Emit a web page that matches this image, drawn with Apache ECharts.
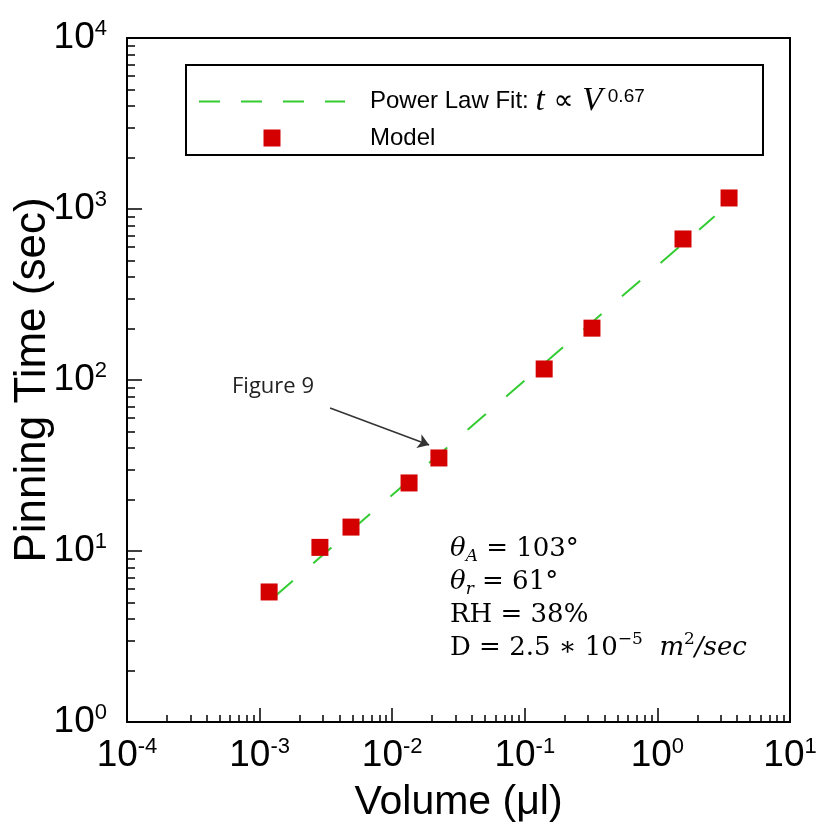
<!DOCTYPE html>
<html>
<head>
<meta charset="utf-8">
<script src="https://cdn.jsdelivr.net/npm/echarts@6/dist/echarts.min.js"></script>
<style>
html, body { margin: 0; padding: 0; background: #fff; }
#chart { width: 820px; height: 827px; }
</style>
</head>
<body>
<div id="chart"></div>
<script>
// model points
var volume = [0.00118, 0.00285, 0.00489, 0.0134, 0.0225, 0.140, 0.321, 1.56, 3.47];
var pinTime = [5.76, 10.5, 13.8, 25.0, 35.0, 116, 201, 668, 1160];
// power law fit, t ~ V^0.67 (end points of the dashed line)
var fitVolume = [0.0013, 2.7];
var fitTime = [5.42, 906];
// "Figure 9" arrow, tail and head
var arrowFrom = [0.0034, 68.6];
var arrowTo = [0.019, 41.7];
// ticks
var xMajor = [1e-4, 1e-3, 1e-2, 1e-1, 1, 10];
var yMajor = [1, 10, 100, 1000, 10000];
var minorMult = [2, 3, 4, 5, 6, 7, 8, 9];

function minorTicks(majors) {
	var out = [];
	for (var i = 0; i < majors.length - 1; i++) {
		for (var j = 0; j < minorMult.length; j++) {
			out.push(majors[i] * minorMult[j]);
		}
	}
	return out;
}

function powLabel(v) {
	return '{b|10}{s|' + Math.round(Math.log10(v)) + '}';
}

var labelRich = {
	b: { fontFamily: 'Liberation Sans', fontSize: 37, lineHeight: 40, color: '#000' },
	s: { fontFamily: 'Liberation Sans', fontSize: 22, lineHeight: 22, verticalAlign: 'top', color: '#000' }
};

var myChart = echarts.init(document.getElementById('chart'));

var option = {
	backgroundColor: '#fff',
	animation: false,
	grid: {
		left: 127, right: 30, top: 38, bottom: 105,
		outerBoundsMode: 'none',
		containLabel: false,
		show: true, borderColor: '#000', borderWidth: 2
	},
	//legend sits on a white box drawn below
	legend: {
		orient: 'vertical',
		left: 198,
		top: 85,
		padding: 0,
		itemWidth: 146,
		itemHeight: 17,
		itemGap: 8,
		z: 10,
		selectedMode: false,
		data: [
			{ name: 'Power Law Fit', itemStyle: { opacity: 0 }, lineStyle: { type: [21, 21], width: 2, color: '#33cc33' } },
			{ name: 'Model', icon: 'path://M0,0L10,0L10,10L0,10Z' }
		],
		formatter: function(name) {
			if (name == 'Power Law Fit') {
				return '{a|Power Law Fit: }{i|t}{p| ∝ }{i|V}{s| 0.67}';
			}
			return '{a|Model}';
		},
		textStyle: {
			color: '#000',
			fontFamily: 'Liberation Sans',
			fontSize: 24,
			rich: {
				a: { fontFamily: 'Liberation Sans', fontSize: 24, lineHeight: 28, padding: [0, 0, 0, 20], color: '#000' },
				i: { fontFamily: 'Liberation Serif', fontStyle: 'italic', fontSize: 33, lineHeight: 28, color: '#000' },
				p: { fontFamily: 'DejaVu Sans', fontSize: 28, lineHeight: 28, color: '#000' },
				s: { fontFamily: 'Liberation Sans', fontSize: 19, lineHeight: 16, verticalAlign: 'top', color: '#000' }
			}
		}
	},
	xAxis: [{
		type: 'log',
		logBase: 10,
		min: 1e-4,
		max: 10,
		position: 'bottom',
		name: 'Volume (μl)',
		nameLocation: 'middle',
		nameGap: 60,
		nameMoveOverlap: false,
		nameTextStyle: { fontFamily: 'Liberation Sans', fontSize: 41, color: '#000', verticalAlign: 'top' },
		axisLine: { lineStyle: { color: '#000', width: 2 } },
		axisTick: { inside: true, length: 14, customValues: xMajor, lineStyle: { color: '#000', width: 1.5 } },
		axisLabel: { customValues: xMajor, margin: 14, formatter: powLabel, rich: labelRich },
		splitLine: { show: false }
	}, {
		// minor ticks only
		type: 'log',
		logBase: 10,
		min: 1e-4,
		max: 10,
		position: 'bottom',
		axisLine: { show: false },
		axisTick: { inside: true, length: 7, customValues: minorTicks(xMajor), lineStyle: { color: '#000', width: 1.5 } },
		axisLabel: { show: false },
		splitLine: { show: false }
	}],
	yAxis: [{
		type: 'log',
		logBase: 10,
		min: 1,
		max: 10000,
		position: 'left',
		name: 'Pinning Time (sec)',
		nameLocation: 'middle',
		nameGap: 72,
		nameRotate: 90,
		nameMoveOverlap: false,
		nameTextStyle: { fontFamily: 'Liberation Sans', fontSize: 44, color: '#000' },
		axisLine: { lineStyle: { color: '#000', width: 2 } },
		axisTick: { inside: true, length: 15, customValues: yMajor, lineStyle: { color: '#000', width: 1.5 } },
		axisLabel: { customValues: yMajor, margin: 20, formatter: powLabel, rich: labelRich },
		splitLine: { show: false }
	}, {
		type: 'log',
		logBase: 10,
		min: 1,
		max: 10000,
		position: 'left',
		axisLine: { show: false },
		axisTick: { inside: true, length: 8, customValues: minorTicks(yMajor), lineStyle: { color: '#000', width: 1.5 } },
		axisLabel: { show: false },
		splitLine: { show: false }
	}],
	graphic: [{
		type: 'rect',
		z: 1,
		shape: { x: 186, y: 65, width: 577, height: 90 },
		style: { fill: '#fff', stroke: '#000', lineWidth: 2 }
	}, {
		type: 'text',
		left: 232,
		top: 376,
		style: { text: 'Figure 9', fill: '#222', font: '22px "Open Sans"' }
	}, {
		type: 'text',
		left: 450,
		top: 536,
		style: {
			text: '{it|θ}{sub|A}{r| = 103°}\n{it|θ}{sub|r}{r| = 61°}\n{r|RH = 38%}\n{r|D = 2.5 ∗ 10}{sup|−5}{r|  }{it|m}{sup|2}{it|/sec}',
			fill: '#000',
			rich: {
				r: { fontFamily: 'DejaVu Serif', fontSize: 26, lineHeight: 33, fill: '#000' },
				it: { fontFamily: 'DejaVu Serif', fontStyle: 'italic', fontSize: 26, lineHeight: 33, fill: '#000' },
				sub: { fontFamily: 'DejaVu Serif', fontStyle: 'italic', fontSize: 17, lineHeight: 17, verticalAlign: 'bottom', fill: '#000' },
				sup: { fontFamily: 'DejaVu Serif', fontSize: 17, lineHeight: 17, verticalAlign: 'top', fill: '#000' }
			}
		}
	}],
	series: [{
		name: 'Power Law Fit',
		type: 'line',
		symbol: 'none',
		z: 2,
		data: fitVolume.map(function(v, i) { return [v, fitTime[i]]; }),
		lineStyle: { color: '#33cc33', width: 2, type: [24, 27] },
		itemStyle: { color: '#33cc33' }
	}, {
		name: 'Model',
		type: 'scatter',
		symbol: 'rect',
		symbolSize: 17,
		z: 3,
		data: volume.map(function(v, i) { return [v, pinTime[i]]; }),
		itemStyle: { color: '#d40000', opacity: 1 },
		markLine: {
			silent: true,
			symbol: ['none', 'arrow'],
			symbolSize: 11,
			label: { show: false },
			lineStyle: { color: '#333', width: 1.5, type: 'solid' },
			data: [[{ coord: arrowFrom }, { coord: arrowTo }]]
		}
	}]
};

myChart.setOption(option, true);
</script>
</body>
</html>
